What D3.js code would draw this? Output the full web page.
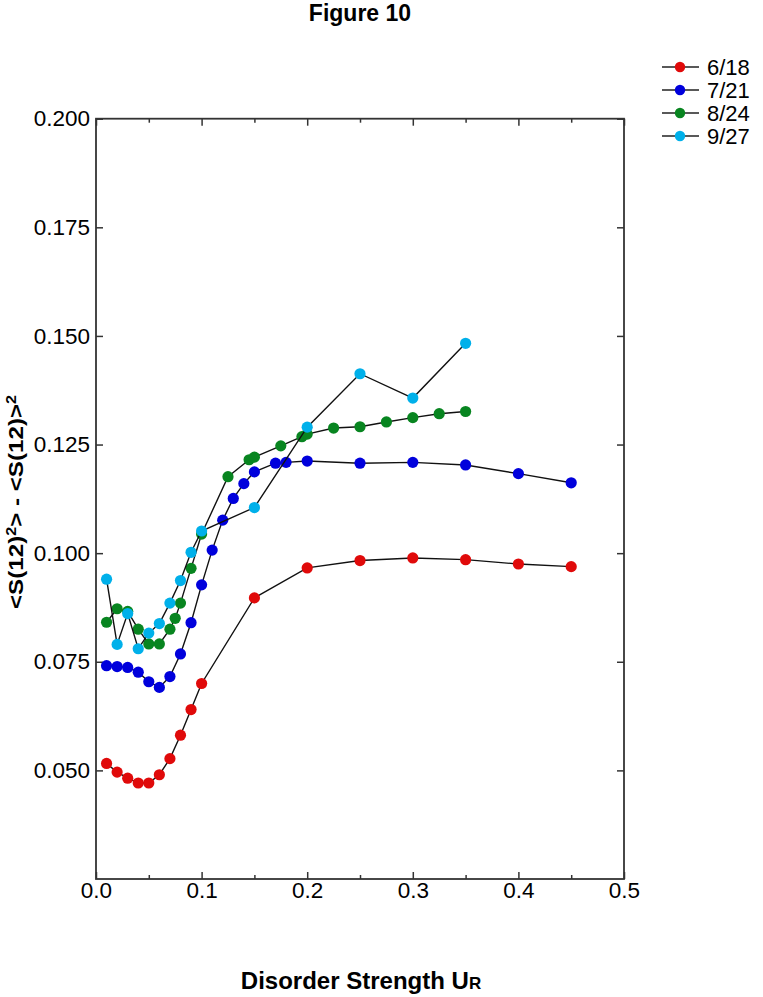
<!DOCTYPE html>
<html>
<head>
<meta charset="utf-8">
<script src="https://cdn.jsdelivr.net/npm/d3@7"></script>
<style>
  body { margin: 0; background: #fff; }
  text { font-family: "Liberation Sans", Arial, Helvetica, sans-serif; }
</style>
</head>
<body>
<div id="chart"></div>
<script>
// data
var seriesNames = ["6/18", "7/21", "8/24", "9/27"];
var seriesColors = ["#e00a0a", "#0000dc", "#088520", "#00b0ea"];

var xRed = [0.01, 0.02, 0.03, 0.04, 0.05, 0.06, 0.07, 0.08, 0.09, 0.10, 0.15, 0.20, 0.25, 0.30, 0.35, 0.40, 0.45];
var yRed = [0.0516, 0.0496, 0.0482, 0.0471, 0.0471, 0.0490, 0.0527, 0.0581, 0.0640, 0.0700, 0.0897, 0.0966, 0.0983, 0.0989, 0.0985, 0.0975, 0.0969];

var xBlue = [0.01, 0.02, 0.03, 0.04, 0.05, 0.06, 0.07, 0.08, 0.09, 0.10, 0.11, 0.12, 0.13, 0.14, 0.15, 0.17, 0.18, 0.20, 0.25, 0.30, 0.35, 0.40, 0.45];
var yBlue = [0.0741, 0.0739, 0.0737, 0.0726, 0.0704, 0.0691, 0.0716, 0.0768, 0.0840, 0.0927, 0.1007, 0.1076, 0.1126, 0.1160, 0.1187, 0.1207, 0.1209, 0.1212, 0.1207, 0.1209, 0.1203, 0.1183, 0.1162];

var xGreen = [0.01, 0.02, 0.03, 0.04, 0.05, 0.06, 0.07, 0.075, 0.08, 0.09, 0.10, 0.125, 0.145, 0.15, 0.175, 0.195, 0.20, 0.225, 0.25, 0.275, 0.30, 0.325, 0.35];
var yGreen = [0.0841, 0.0872, 0.0866, 0.0825, 0.0791, 0.0791, 0.0825, 0.0850, 0.0885, 0.0965, 0.1044, 0.1176, 0.1215, 0.1221, 0.1247, 0.1268, 0.1274, 0.1288, 0.1291, 0.1302, 0.1312, 0.1321, 0.1326];

var xCyan = [0.01, 0.02, 0.03, 0.04, 0.05, 0.06, 0.07, 0.08, 0.09, 0.10, 0.15, 0.20, 0.25, 0.30, 0.35];
var yCyan = [0.0940, 0.0790, 0.0861, 0.0780, 0.0816, 0.0838, 0.0885, 0.0937, 0.1002, 0.1051, 0.1105, 0.1290, 0.1413, 0.1357, 0.1483];

var xTicks = [0.0, 0.1, 0.2, 0.3, 0.4, 0.5];
var xMinorTicks = [0.05, 0.15, 0.25, 0.35, 0.45];
var yTicks = [0.050, 0.075, 0.100, 0.125, 0.150, 0.175, 0.200];

var allX = [xRed, xBlue, xGreen, xCyan];
var allY = [yRed, yBlue, yGreen, yCyan];

// page size and plot box
var W = 763, H = 997;
var box = {left: 96, right: 624, top: 118.7, bottom: 879};

var svg = d3.select("#chart")
  .append("svg")
    .attr("width", W)
    .attr("height", H);

var x = d3.scaleLinear()
    .domain([0, 0.5])
    .range([box.left, box.right]);

var y = d3.scaleLinear()
    .domain([0.025, 0.2])
    .range([box.bottom, box.top]);

// axes: ticks pointing inwards on all four sides
function styleAxis(g) {
  g.select(".domain").remove();
  g.selectAll(".tick line").attr("stroke", "#333").attr("stroke-width", 1.5);
  g.selectAll(".tick text")
    .attr("fill", "#000")
    .style("font-size", "22.5px")
    .style("font-family", "'Liberation Sans', Arial, sans-serif");
}

svg.append("g")
    .attr("transform", "translate(0," + box.bottom + ")")
    .call(d3.axisBottom(x).tickValues(xTicks).tickFormat(d3.format(".1f")).tickSizeInner(-7).tickSizeOuter(0).tickPadding(3))
    .call(styleAxis);
svg.append("g")
    .attr("transform", "translate(0," + box.bottom + ")")
    .call(d3.axisBottom(x).tickValues(xMinorTicks).tickFormat("").tickSizeInner(-4).tickSizeOuter(0))
    .call(styleAxis);
svg.append("g")
    .attr("transform", "translate(0," + box.top + ")")
    .call(d3.axisTop(x).tickValues(xTicks).tickFormat("").tickSizeInner(-7).tickSizeOuter(0))
    .call(styleAxis);
svg.append("g")
    .attr("transform", "translate(0," + box.top + ")")
    .call(d3.axisTop(x).tickValues(xMinorTicks).tickFormat("").tickSizeInner(-4).tickSizeOuter(0))
    .call(styleAxis);
svg.append("g")
    .attr("transform", "translate(" + box.left + ",0)")
    .call(d3.axisLeft(y).tickValues(yTicks).tickFormat(d3.format(".3f")).tickSizeInner(-7).tickSizeOuter(0).tickPadding(6))
    .call(styleAxis);
svg.append("g")
    .attr("transform", "translate(" + box.right + ",0)")
    .call(d3.axisRight(y).tickValues(yTicks).tickFormat("").tickSizeInner(-7).tickSizeOuter(0))
    .call(styleAxis);

// frame
svg.append("rect")
    .attr("x", box.left)
    .attr("y", box.top)
    .attr("width", box.right - box.left)
    .attr("height", box.bottom - box.top)
    .attr("fill", "none")
    .attr("stroke", "#333")
    .attr("stroke-width", 1.8);

// series
var line = d3.line()
    .x(function(d) { return x(d[0]); })
    .y(function(d) { return y(d[1]); });

allX.forEach(function(xs, i) {
  var pts = xs.map(function(v, j) { return [v, allY[i][j]]; });
  var g = svg.append("g");
  g.append("path")
      .datum(pts)
      .attr("d", line)
      .attr("fill", "none")
      .attr("stroke", "#111")
      .attr("stroke-width", 1.4);
  g.selectAll("circle")
      .data(pts)
      .enter()
      .append("circle")
        .attr("cx", function(d) { return x(d[0]); })
        .attr("cy", function(d) { return y(d[1]); })
        .attr("r", 5.6)
        .attr("fill", seriesColors[i]);
});

// title
svg.append("text")
    .attr("x", 360)
    .attr("y", 21)
    .attr("text-anchor", "middle")
    .style("font-size", "23px")
    .style("font-weight", "bold")
    .text("Figure 10");

// x axis title with subscript R
var xt = svg.append("text")
    .attr("x", 361)
    .attr("y", 989)
    .attr("text-anchor", "middle")
    .style("font-size", "24px")
    .style("font-weight", "bold");
xt.append("tspan").text("Disorder Strength U");
xt.append("tspan").style("font-size", "17px").text("R");

// y axis title with superscripts
var yt = svg.append("text")
    .attr("transform", "translate(23,502) rotate(-90)")
    .attr("text-anchor", "middle")
    .attr("textLength", 214)
    .attr("lengthAdjust", "spacingAndGlyphs")
    .style("font-size", "21px")
    .style("font-weight", "bold");
yt.append("tspan").text("<S(12)");
yt.append("tspan").attr("dy", -7).style("font-size", "14px").text("2");
yt.append("tspan").attr("dy", 7).text("> - <S(12)>");
yt.append("tspan").attr("dy", -7).style("font-size", "14px").text("2");

// legend
var legend = svg.append("g");
seriesNames.forEach(function(name, i) {
  var ly = 67 + i * 23;
  legend.append("line")
      .attr("x1", 662).attr("x2", 699)
      .attr("y1", ly).attr("y2", ly)
      .attr("stroke", "#222")
      .attr("stroke-width", 1.4);
  legend.append("circle")
      .attr("cx", 680).attr("cy", ly)
      .attr("r", 5.2)
      .attr("fill", seriesColors[i]);
  legend.append("text")
      .attr("x", 707).attr("y", ly + 8)
      .style("font-size", "22px")
      .text(name);
});
</script>
</body>
</html>
